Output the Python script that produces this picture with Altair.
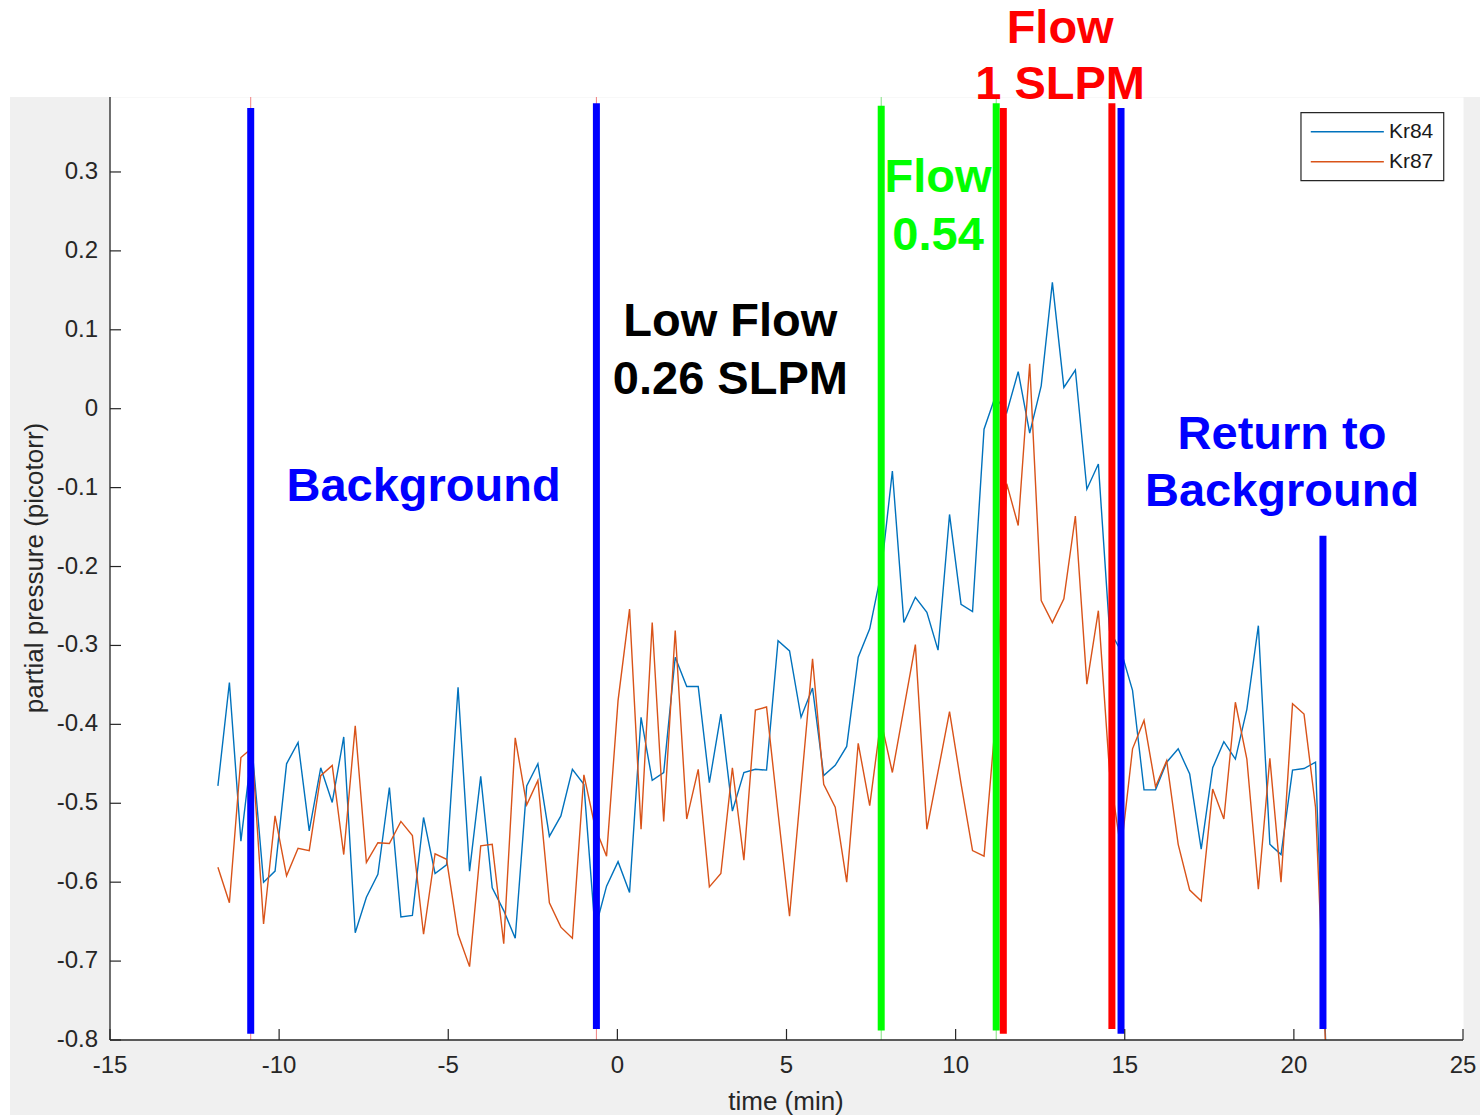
import altair as alt
import pandas as pd

# ---------------- data ----------------
time_min = [-11.81, -11.47, -11.13, -10.80, -10.46, -10.12, -9.78, -9.44, -9.11, -8.77,
            -8.43, -8.09, -7.75, -7.42, -7.08, -6.74, -6.40, -6.06, -5.73, -5.39,
            -5.05, -4.71, -4.37, -4.04, -3.70, -3.36, -3.02, -2.68, -2.35, -2.01,
            -1.67, -1.33, -0.99, -0.66, -0.32, 0.02, 0.36, 0.70, 1.03, 1.37,
            1.71, 2.05, 2.39, 2.72, 3.06, 3.40, 3.74, 4.08, 4.41, 4.75,
            5.09, 5.43, 5.77, 6.10, 6.44, 6.78, 7.12, 7.46, 7.79, 8.13,
            8.47, 8.81, 9.15, 9.48, 9.82, 10.16, 10.50, 10.84, 11.17, 11.51,
            11.85, 12.19, 12.53, 12.86, 13.20, 13.54, 13.88, 14.22, 14.55, 14.89,
            15.23, 15.57, 15.91, 16.24, 16.58, 16.92, 17.26, 17.60, 17.93, 18.27,
            18.61, 18.95, 19.29, 19.62, 19.96, 20.30, 20.64, 20.98]

kr84 = [-0.478, -0.347, -0.548, -0.430, -0.600, -0.586, -0.450, -0.423, -0.535, -0.455,
        -0.499, -0.416, -0.664, -0.619, -0.590, -0.480, -0.644, -0.642, -0.518, -0.589,
        -0.578, -0.353, -0.586, -0.466, -0.607, -0.636, -0.671, -0.478, -0.450, -0.542,
        -0.516, -0.457, -0.476, -0.660, -0.605, -0.574, -0.613, -0.391, -0.471, -0.461,
        -0.315, -0.352, -0.352, -0.474, -0.387, -0.510, -0.461, -0.457, -0.458, -0.294,
        -0.307, -0.391, -0.354, -0.465, -0.452, -0.428, -0.315, -0.279, -0.210, -0.079,
        -0.271, -0.239, -0.258, -0.306, -0.134, -0.248, -0.257, -0.026, 0.015, -0.005,
        0.047, -0.031, 0.029, 0.160, 0.027, 0.049, -0.102, -0.070, -0.281, -0.307,
        -0.357, -0.483, -0.483, -0.448, -0.431, -0.463, -0.558, -0.455, -0.422, -0.444,
        -0.381, -0.275, -0.552, -0.565, -0.458, -0.456, -0.448, -0.850]

kr87 = [-0.581, -0.626, -0.442, -0.430, -0.653, -0.516, -0.592, -0.557, -0.560, -0.465,
        -0.452, -0.565, -0.402, -0.575, -0.550, -0.551, -0.523, -0.541, -0.666, -0.564,
        -0.571, -0.666, -0.707, -0.554, -0.552, -0.678, -0.417, -0.502, -0.471, -0.626,
        -0.657, -0.671, -0.464, -0.530, -0.567, -0.370, -0.254, -0.533, -0.271, -0.523,
        -0.281, -0.520, -0.457, -0.606, -0.589, -0.455, -0.572, -0.382, -0.378, -0.512,
        -0.643, -0.480, -0.317, -0.476, -0.505, -0.600, -0.424, -0.503, -0.395, -0.461,
        -0.380, -0.299, -0.533, -0.460, -0.384, -0.475, -0.560, -0.567, -0.400, -0.095,
        -0.148, 0.057, -0.243, -0.271, -0.241, -0.136, -0.349, -0.256, -0.460, -0.560,
        -0.431, -0.395, -0.479, -0.446, -0.552, -0.610, -0.624, -0.482, -0.520, -0.372,
        -0.444, -0.609, -0.443, -0.600, -0.374, -0.387, -0.505, -0.850]

series_names = ["Kr84", "Kr87"]
series_colors = ["#0072BD", "#D95319"]

# thick annotation bars
bar_times = [-10.84, -0.62, 7.80, 11.20, 11.41, 14.62, 14.89, 20.86]
bar_tops = [0.381, 0.387, 0.384, 0.387, 0.381, 0.387, 0.381, -0.161]
bar_bottoms = [-0.792, -0.786, -0.788, -0.788, -0.792, -0.786, -0.792, -0.786]
bar_colors = ["#0000FF", "#0000FF", "#00FF00", "#00FF00", "#FF0000", "#FF0000", "#0000FF", "#0000FF"]

# thin marker lines underneath
thin_times = [-10.84, -0.62, 7.80, 11.20]
thin_colors = ["#F08080", "#F08080", "#80E080", "#80E080"]

# annotation texts
label_texts = ["Background", "Low Flow", "0.26 SLPM", "Flow", "0.54", "Flow", "1 SLPM",
               "Return to", "Background"]
label_t = [-5.73, 3.34, 3.34, 9.48, 9.48, 13.09, 13.09, 19.65, 19.65]
label_v = [-0.1166, 0.0925, 0.019, 0.274, 0.2015, 0.464, 0.392, -0.0507, -0.123]
label_colors = ["#0000FF", "#000000", "#000000", "#00FF00", "#00FF00", "#FF0000", "#FF0000",
                "#0000FF", "#0000FF"]

x_ticks = [-15, -10, -5, 0, 5, 10, 15, 20, 25]
x_tick_labels = ["-15", "-10", "-5", "0", "5", "10", "15", "20", "25"]
y_ticks = [-0.8, -0.7, -0.6, -0.5, -0.4, -0.3, -0.2, -0.1, 0.0, 0.1, 0.2, 0.3]
y_tick_labels = ["-0.8", "-0.7", "-0.6", "-0.5", "-0.4", "-0.3", "-0.2", "-0.1", "0",
                 "0.1", "0.2", "0.3"]
x_title = "time (min)"
y_title = "partial pressure (picotorr)"

# legend box (data coords)
legend_box = {"t1": 20.21, "t2": 24.43, "v1": 0.3751, "v2": 0.289}
legend_line_t = [20.50, 22.66]
legend_rows_v = [0.351, 0.313]
legend_label_t = 22.81

x_domain = [-15, 25]
y_domain = [-0.8, 0.395]

# ---------------- build ----------------
W, H = 1353, 943
AX = "#262626"
FONT = "Liberation Sans"

xscale = alt.Scale(domain=x_domain, nice=False, zero=False)
yscale = alt.Scale(domain=y_domain, nice=False, zero=False)

long = pd.DataFrame({
    "time": time_min * 2,
    "value": kr84 + kr87,
    "series": [series_names[0]] * len(kr84) + [series_names[1]] * len(kr87),
})

lines = alt.Chart(long).mark_line(strokeWidth=1.4, clip=True).encode(
    x=alt.X("time:Q", scale=xscale, axis=None),
    y=alt.Y("value:Q", scale=yscale, axis=None),
    color=alt.Color("series:N", scale=alt.Scale(domain=series_names, range=series_colors),
                    legend=None),
    detail="series:N")

# white strips outside the grey figure area
white_top = alt.Chart(pd.DataFrame({"a": [0]})).mark_rect(color="white").encode(
    x=alt.value(-110), x2=alt.value(W + 17), y=alt.value(-97), y2=alt.value(0))
white_left = alt.Chart(pd.DataFrame({"a": [0]})).mark_rect(color="white").encode(
    x=alt.value(-110), x2=alt.value(-100), y=alt.value(0), y2=alt.value(H + 75))

thin_df = pd.DataFrame({"t": thin_times, "c": thin_colors})
thin = alt.Chart(thin_df).mark_rule(strokeWidth=1).encode(
    x=alt.X("t:Q", scale=xscale, axis=None),
    y=alt.value(0), y2=alt.value(H),
    color=alt.Color("c:N", scale=None))

bars_df = pd.DataFrame({"t": bar_times, "top": bar_tops, "bot": bar_bottoms, "c": bar_colors})
bars = alt.Chart(bars_df).mark_rule(strokeWidth=7).encode(
    x=alt.X("t:Q", scale=xscale, axis=None),
    y=alt.Y("top:Q", scale=yscale, axis=None),
    y2="bot:Q",
    color=alt.Color("c:N", scale=None))

labels_df = pd.DataFrame({"t": label_t, "v": label_v, "txt": label_texts, "c": label_colors})
labels = alt.Chart(labels_df).mark_text(font=FONT, fontWeight="bold", fontSize=47,
                                         align="center", baseline="alphabetic").encode(
    x=alt.X("t:Q", scale=xscale, axis=None),
    y=alt.Y("v:Q", scale=yscale, axis=None),
    text="txt:N",
    color=alt.Color("c:N", scale=None))

# ---- axes drawn by hand (MATLAB style: inward ticks, no box) ----
dom_df = pd.DataFrame({"t1": [x_domain[0], x_domain[0]], "t2": [x_domain[0], x_domain[1]],
                       "v1": [y_domain[0], y_domain[0]], "v2": [y_domain[1], y_domain[0]]})
domain = alt.Chart(dom_df).mark_rule(color=AX, strokeWidth=1.3).encode(
    x=alt.X("t1:Q", scale=xscale, axis=None), x2="t2:Q",
    y=alt.Y("v1:Q", scale=yscale, axis=None), y2="v2:Q")

xt_df = pd.DataFrame({"t": x_ticks, "lab": x_tick_labels, "v": [y_domain[0]] * len(x_ticks)})
yt_df = pd.DataFrame({"v": y_ticks, "lab": y_tick_labels, "t": [x_domain[0]] * len(y_ticks)})

xt = alt.Chart(xt_df).mark_rule(color=AX, strokeWidth=1.2).encode(
    x=alt.X("t:Q", scale=xscale, axis=None), y=alt.value(H), y2=alt.value(H - 11))
yt = alt.Chart(yt_df).mark_rule(color=AX, strokeWidth=1.2).encode(
    y=alt.Y("v:Q", scale=yscale, axis=None), x=alt.value(0), x2=alt.value(11))

xl = alt.Chart(xt_df).mark_text(font=FONT, fontSize=24, color=AX, align="center",
                                baseline="middle", dy=26).encode(
    x=alt.X("t:Q", scale=xscale, axis=None),
    y=alt.Y("v:Q", scale=yscale, axis=None), text="lab:N")
yl = alt.Chart(yt_df).mark_text(font=FONT, fontSize=24, color=AX, align="right",
                                baseline="middle", dx=-12).encode(
    x=alt.X("t:Q", scale=xscale, axis=None),
    y=alt.Y("v:Q", scale=yscale, axis=None), text="lab:N")

xtitle = alt.Chart(pd.DataFrame({"lab": [x_title]})).mark_text(
    font=FONT, fontSize=26, color=AX, align="center", baseline="middle").encode(
    x=alt.value(676), y=alt.value(H + 62), text="lab:N")
ytitle = alt.Chart(pd.DataFrame({"lab": [y_title]})).mark_text(
    font=FONT, fontSize=26, color=AX, align="center", baseline="middle", angle=270).encode(
    x=alt.value(-75), y=alt.value(471), text="lab:N")

# legend
lbox = alt.Chart(pd.DataFrame([legend_box])).mark_rect(fill="white", stroke=AX, strokeWidth=1.2).encode(
    x=alt.X("t1:Q", scale=xscale, axis=None), x2="t2:Q",
    y=alt.Y("v1:Q", scale=yscale, axis=None), y2="v2:Q")
leg_df = pd.DataFrame({"t1": [legend_line_t[0]] * 2, "t2": [legend_line_t[1]] * 2,
                       "v": legend_rows_v, "name": series_names, "tl": [legend_label_t] * 2})
lline = alt.Chart(leg_df).mark_rule(strokeWidth=1.4).encode(
    x=alt.X("t1:Q", scale=xscale, axis=None), x2="t2:Q",
    y=alt.Y("v:Q", scale=yscale, axis=None),
    color=alt.Color("name:N", scale=alt.Scale(domain=series_names, range=series_colors),
                    legend=None))
ltext = alt.Chart(leg_df).mark_text(font=FONT, fontSize=21, align="left", baseline="middle",
                                    color="#1a1a1a").encode(
    x=alt.X("tl:Q", scale=xscale, axis=None),
    y=alt.Y("v:Q", scale=yscale, axis=None),
    text="name:N")

chart = alt.layer(white_top, white_left, thin, lines, bars, labels, domain, xt, yt, xl, yl,
                  xtitle, ytitle, lbox, lline, ltext).properties(
    width=W, height=H,
    autosize=alt.AutoSizeParams(type="none"),
    padding={"left": 110, "top": 97, "right": 17, "bottom": 75},
).configure(background="#f0f0f0").configure_view(fill="white", stroke="transparent")

chart.save("out.html", embed_options={"renderer": "svg", "actions": False})
